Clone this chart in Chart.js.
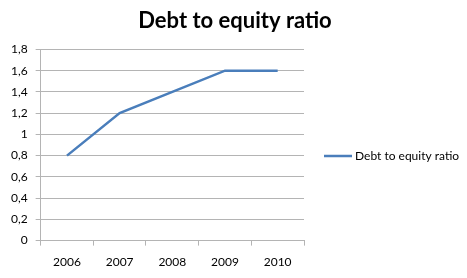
<!DOCTYPE html>
<html lang="en">
<head>
    <meta charset="UTF-8">
    <title>Debt to equity ratio</title>
    <script src="https://cdn.jsdelivr.net/npm/chart.js"></script>
    <style>
        html, body { margin: 0; padding: 0; background: #fff; }
        #wrap { width: 467px; height: 278px; }
    </style>
</head>
<body>
    <div id="wrap">
        <canvas id="ratioChart" width="467" height="278"></canvas>
    </div>

    <script>
        var anos = ['2006', '2007', '2008', '2009', '2010'];
        var ratio = [0.8, 1.2, 1.4, 1.6, 1.6];
        var nomeSerie = 'Debt to equity ratio';

        var corLinha = '#4a7ebb';
        var corGrade = '#b4b4b4';
        var fonte = 'Lato, "Open Sans", sans-serif';

        function formatarTick(v) {
            var r = Math.round(v * 10) / 10;
            return String(r).replace('.', ',');
        }

        // legenda desenhada à direita da área do gráfico, estilo Excel
        var legendaDireita = {
            id: 'legendaDireita',
            afterDraw: function (chart) {
                var area = chart.chartArea;
                var ds = chart.data.datasets[0];
                var c = chart.ctx;
                var x0 = area.right + 20;
                var y0 = (area.top + area.bottom) / 2 + 11;
                c.save();
                c.strokeStyle = ds.borderColor;
                c.lineWidth = ds.borderWidth;
                c.beginPath();
                c.moveTo(x0, y0);
                c.lineTo(x0 + 28, y0);
                c.stroke();
                c.fillStyle = '#000';
                c.font = '12px ' + fonte;
                c.textBaseline = 'middle';
                c.fillText(ds.label, x0 + 31, y0);
                c.restore();
            }
        };

        var ctx = document.getElementById('ratioChart').getContext('2d');
        var ratioChart = new Chart(ctx, {
            type: 'line',
            data: {
                labels: anos,
                datasets: [{
                    label: nomeSerie,
                    data: ratio,
                    borderColor: corLinha,
                    backgroundColor: corLinha,
                    borderWidth: 2.5,
                    pointRadius: 0,
                    tension: 0,
                    fill: false,
                }],
            },
            options: {
                responsive: false,
                animation: false,
                layout: { padding: { left: 3, right: 0, top: 4, bottom: 0 } },
                plugins: {
                    title: {
                        display: true,
                        text: nomeSerie,
                        color: '#000',
                        font: { family: fonte, size: 22, weight: 'bold' },
                        padding: { top: 4, bottom: 15 },
                    },
                    legend: { display: false },
                    tooltip: { enabled: false },
                },
                scales: {
                    x: {
                        offset: true,
                        grid: {
                            offset: true,
                            drawOnChartArea: false,
                            drawTicks: true,
                            tickLength: 5,
                            color: corGrade,
                        },
                        border: { color: corGrade },
                        ticks: {
                            color: '#000',
                            padding: 9,
                            maxRotation: 0,
                            font: { family: fonte, size: 12 },
                        },
                    },
                    y: {
                        min: 0,
                        max: 1.8,
                        grid: {
                            color: corGrade,
                            tickLength: 5,
                        },
                        border: { color: corGrade },
                        ticks: {
                            stepSize: 0.2,
                            color: '#000',
                            padding: 8,
                            font: { family: fonte, size: 12 },
                            callback: function (v) { return formatarTick(v); },
                        },
                    },
                    // eixo vazio que reserva o espaço da legenda à direita
                    espacoLegenda: {
                        position: 'right',
                        display: true,
                        grid: { display: false },
                        border: { display: false },
                        ticks: { display: false },
                        afterFit: function (s) { s.width = 163; },
                    },
                },
            },
            plugins: [legendaDireita],
        });
    </script>
</body>
</html>
